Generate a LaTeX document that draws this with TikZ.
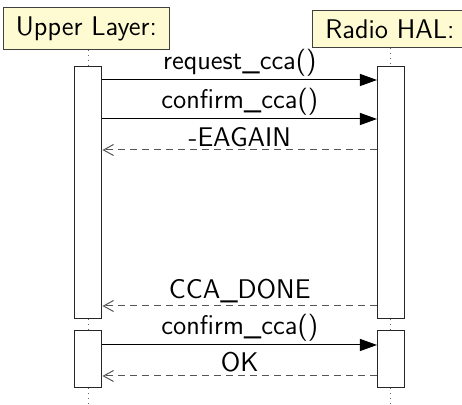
\documentclass[tikz,border=0pt]{standalone}
\usepackage{tikz}
\usetikzlibrary{arrows.meta,positioning,calc}
\definecolor{headfill}{HTML}{FEFBD3}
\definecolor{dashgray}{HTML}{555555}

\begin{document}
\begin{tikzpicture}[
    x=0.5pt, y=-0.5pt,
    font=\sffamily\fontsize{13.5}{16}\selectfont,
    head/.style={rectangle, draw=black!75, fill=headfill, line width=0.5pt, inner xsep=6.3pt, inner ysep=4.3pt},
    act/.style={rectangle, draw=black!85, fill=white, line width=0.5pt, minimum width=13.5pt, inner sep=0pt},
    life/.style={dotted, black!60, line width=0.5pt},
    call/.style={-{Triangle[length=8.5pt,width=6pt]}, line width=0.5pt},
    reply/.style={-{Straight Barb[length=5pt,width=5.5pt]}, dashgray, line width=0.5pt, dash pattern=on 3.5pt off 2.5pt},
    lbl/.style={above, inner sep=1.5pt, text=black}
]
\useasboundingbox (0,0) rectangle (462,405);

% Participants
\node[head] (upper) at (86.5,28.5) {Upper Layer:};
\node[head] (radio) at (390,29) {Radio HAL:};

% Activations
\node[act, minimum height=126pt] (ua1) at (88.5,193) {};
\node[act, minimum height=126pt] (rh1) at (391,193) {};
\node[act, minimum height=28.5pt] (ua2) at (88.5,359.5) {};
\node[act, minimum height=28.5pt] (rh2) at (391,359.5) {};
\coordinate (uend) at (88.5,405);
\coordinate (rend) at (391,405);

% Lifelines
\draw[life] (upper.south -| ua1.north) -- (ua1.north);
\draw[life] (ua1.south) -- (ua2.north);
\draw[life] (ua2.south) -- (uend);
\draw[life] (radio.south -| rh1.north) -- (rh1.north);
\draw[life] (rh1.south) -- (rh2.north);
\draw[life] (rh2.south) -- (rend);

% Message rows
\coordinate (m1) at (0,80);
\coordinate (m2) at (0,119);
\coordinate (m3) at (0,150);
\coordinate (m4) at (0,306);
\coordinate (m5) at (0,345);
\coordinate (m6) at (0,376);

% Messages
\draw[call] (ua1.east |- m1) -- (rh1.west |- m1) node[lbl, midway] {request\_cca()};
\draw[call] (ua1.east |- m2) -- (rh1.west |- m2) node[lbl, midway] {confirm\_cca()};
\draw[reply] (rh1.west |- m3) -- (ua1.east |- m3) node[lbl, midway] {-EAGAIN};
\draw[reply] (rh1.west |- m4) -- (ua1.east |- m4) node[lbl, midway] {CCA\_DONE};
\draw[call] (ua2.east |- m5) -- (rh2.west |- m5) node[lbl, midway] {confirm\_cca()};
\draw[reply] (rh2.west |- m6) -- (ua2.east |- m6) node[lbl, midway] {OK};

\end{tikzpicture}
\end{document}
